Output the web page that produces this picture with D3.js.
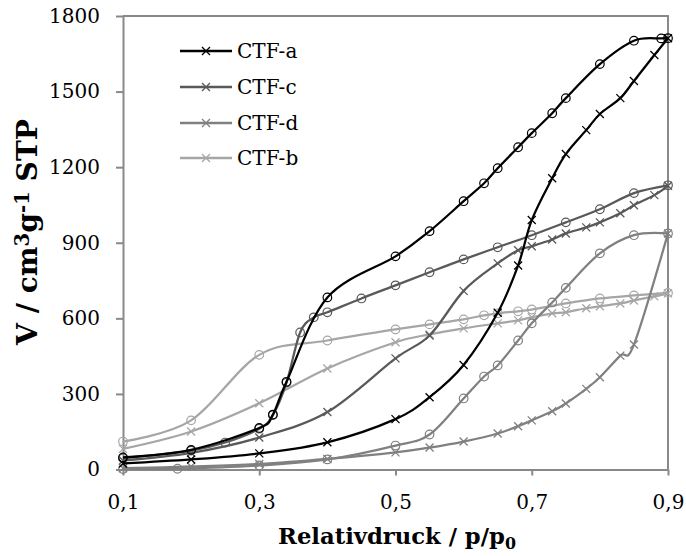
<!DOCTYPE html>
<html>
<head>
<meta charset="utf-8">
<script src="https://cdn.jsdelivr.net/npm/d3@7"></script>
<style>
  html, body { margin: 0; padding: 0; background: #fff; }
  svg { display: block; }
  text { font-family: "DejaVu Serif", "Liberation Serif", serif; fill: #000; }
</style>
</head>
<body>
<svg id="chart" width="686" height="556"></svg>
<script>
// ---------- data ----------
const seriesNames = ["CTF-a", "CTF-c", "CTF-d", "CTF-b"];
const seriesColors = ["#000000", "#595959", "#808080", "#a6a6a6"];

const xTicks = [0.1, 0.3, 0.5, 0.7, 0.9];
const yTicks = [0, 300, 600, 900, 1200, 1500, 1800];

// CTF-a
const aAdsP = [0.1, 0.2, 0.3, 0.4, 0.5, 0.55, 0.6, 0.65, 0.68, 0.7, 0.73, 0.75, 0.78, 0.8, 0.83, 0.85, 0.88, 0.9];
const aAdsV = [24, 40, 64, 108, 200, 287, 415, 622, 810, 990, 1156, 1252, 1347, 1411, 1474, 1542, 1645, 1712];
const aDesP = [0.9, 0.89, 0.85, 0.8, 0.75, 0.73, 0.7, 0.68, 0.65, 0.63, 0.6, 0.55, 0.5, 0.4, 0.34, 0.32, 0.3, 0.2, 0.1];
const aDesV = [1712, 1711, 1702, 1609, 1474, 1414, 1335, 1279, 1196, 1136, 1065, 946, 846, 683, 348, 218, 165, 78, 48];

// CTF-c
const cAdsP = [0.1, 0.2, 0.3, 0.4, 0.5, 0.55, 0.6, 0.65, 0.68, 0.7, 0.73, 0.75, 0.78, 0.8, 0.83, 0.85, 0.88, 0.9];
const cAdsV = [36, 66, 127, 228, 441, 532, 709, 818, 870, 886, 913, 937, 961, 981, 1017, 1049, 1089, 1126];
const cDesP = [0.9, 0.85, 0.8, 0.75, 0.7, 0.65, 0.6, 0.55, 0.5, 0.45, 0.4, 0.38, 0.36, 0.34, 0.32, 0.3, 0.25, 0.2, 0.1];
const cDesV = [1128, 1097, 1033, 981, 930, 882, 834, 783, 731, 679, 624, 604, 544, 345, 216, 162, 107, 75, 45];

// CTF-d
const dAdsP = [0.1, 0.2, 0.3, 0.4, 0.5, 0.55, 0.6, 0.65, 0.68, 0.7, 0.73, 0.75, 0.78, 0.8, 0.83, 0.85, 0.9];
const dAdsV = [5, 12, 22, 42, 68, 87, 111, 143, 172, 195, 231, 262, 320, 366, 452, 496, 937];
const dDesP = [0.9, 0.85, 0.8, 0.75, 0.73, 0.7, 0.68, 0.65, 0.63, 0.6, 0.55, 0.5, 0.4, 0.3, 0.18, 0.1];
const dDesV = [937, 930, 858, 721, 663, 580, 512, 413, 369, 282, 139, 95, 40, 16, 3, 2];

// CTF-b
const bAdsP = [0.1, 0.2, 0.3, 0.4, 0.5, 0.55, 0.6, 0.65, 0.68, 0.7, 0.73, 0.75, 0.78, 0.8, 0.83, 0.85, 0.88, 0.9];
const bAdsV = [82, 151, 263, 401, 505, 536, 560, 580, 592, 604, 620, 624, 640, 648, 659, 671, 687, 699];
const bDesP = [0.9, 0.85, 0.8, 0.75, 0.7, 0.68, 0.65, 0.63, 0.6, 0.55, 0.5, 0.4, 0.3, 0.2, 0.1];
const bDesV = [701, 691, 679, 659, 635, 628, 620, 612, 596, 576, 556, 512, 455, 195, 111];

// ---------- build ----------
const zip = (P, V) => P.map((p, i) => ({ p, v: V[i] }));
const series = [
  { name: "CTF-a", color: seriesColors[0], ads: zip(aAdsP, aAdsV), des: zip(aDesP, aDesV) },
  { name: "CTF-c", color: seriesColors[1], ads: zip(cAdsP, cAdsV), des: zip(cDesP, cDesV) },
  { name: "CTF-d", color: seriesColors[2], ads: zip(dAdsP, dAdsV), des: zip(dDesP, dDesV) },
  { name: "CTF-b", color: seriesColors[3], ads: zip(bAdsP, bAdsV), des: zip(bDesP, bDesV) }
];

const svg = d3.select("#chart");
const axisColor = "#898989";

const x = d3.scaleLinear().domain([0.1, 0.9]).range([123, 668]);
const y = d3.scaleLinear().domain([0, 1800]).range([469.5, 16]);

// frame (top & right)
svg.append("path")
  .attr("d", `M${x(0.1)},${y(1800)}H${x(0.9)}V${y(0)}`)
  .attr("fill", "none").attr("stroke", axisColor).attr("stroke-width", 2);

// y axis
const gy = svg.append("g").attr("transform", `translate(${x(0.1)},0)`)
  .call(d3.axisLeft(y).tickValues(yTicks).tickSize(7).tickSizeOuter(0).tickPadding(16).tickFormat(d3.format("d")));
// x axis
const gx = svg.append("g").attr("transform", `translate(0,${y(0)})`)
  .call(d3.axisBottom(x).tickValues(xTicks).tickSize(6).tickSizeOuter(0).tickPadding(19)
    .tickFormat(d => d3.format(".1f")(d).replace(".", ",")));

[gx, gy].forEach(g => {
  g.select(".domain").attr("stroke", axisColor).attr("stroke-width", 2);
  g.selectAll(".tick line").attr("stroke", axisColor).attr("stroke-width", 2);
  g.selectAll(".tick text").attr("fill", "#000")
    .style("font-family", '"DejaVu Serif", serif').style("font-size", "20px");
});

// lines
const line = d3.line().x(d => x(d.p)).y(d => y(d.v)).curve(d3.curveCardinal.tension(0));
const crossPath = s => `M${-s},${-s}L${s},${s}M${-s},${s}L${s},${-s}`;

const drawOrder = [3, 2, 1, 0];
drawOrder.forEach(i => {
  const s = series[i];
  const g = svg.append("g");
  g.append("path").attr("d", line(s.ads)).attr("fill", "none")
    .attr("stroke", s.color).attr("stroke-width", 2.25);
  g.append("path").attr("d", line(s.des)).attr("fill", "none")
    .attr("stroke", s.color).attr("stroke-width", 2.25);
  g.selectAll(".cross").data(s.ads).join("path")
    .attr("transform", d => `translate(${x(d.p)},${y(d.v)})`)
    .attr("d", crossPath(4)).attr("fill", "none")
    .attr("stroke", s.color).attr("stroke-width", 1.3);
  g.selectAll(".circ").data(s.des).join("circle")
    .attr("cx", d => x(d.p)).attr("cy", d => y(d.v)).attr("r", 4.3)
    .attr("fill", "none").attr("stroke", s.color).attr("stroke-width", 1.2);
});

// legend
const legendRows = [51, 87, 123, 158];
series.forEach((s, i) => {
  const ly = legendRows[i];
  const g = svg.append("g");
  g.append("line").attr("x1", 180).attr("x2", 232).attr("y1", ly).attr("y2", ly)
    .attr("stroke", s.color).attr("stroke-width", 2.5);
  g.append("path").attr("transform", `translate(206,${ly})`).attr("d", crossPath(4))
    .attr("stroke", s.color).attr("stroke-width", 1.3);
  g.append("text").attr("x", 237).attr("y", ly + 7).style("font-size", "20px").text(s.name);
});

// axis titles
function fitWidth(sel, target) {
  const fs = parseFloat(sel.style("font-size"));
  const w = sel.node().getComputedTextLength();
  sel.style("font-size", (fs * target / w) + "px");
}

const xt = svg.append("text").attr("x", 397).attr("y", 544).attr("text-anchor", "middle")
  .style("font-weight", "bold").style("font-size", "21px");
xt.append("tspan").text("Relativdruck / p/p");
xt.append("tspan").attr("dy", 5).style("font-size", "0.7em").text("0");
fitWidth(xt, 238);

const yt = svg.append("text").attr("transform", "translate(37,232) rotate(-90)")
  .attr("text-anchor", "middle").style("font-weight", "bold").style("font-size", "21px");
yt.append("tspan").text("V / cm");
yt.append("tspan").attr("dy", -8).style("font-size", "0.7em").text("3");
yt.append("tspan").attr("dy", 8).text("g");
yt.append("tspan").attr("dy", -8).style("font-size", "0.7em").text("-1");
yt.append("tspan").attr("dy", 8).text(" STP");
fitWidth(yt, 226);
</script>
</body>
</html>
